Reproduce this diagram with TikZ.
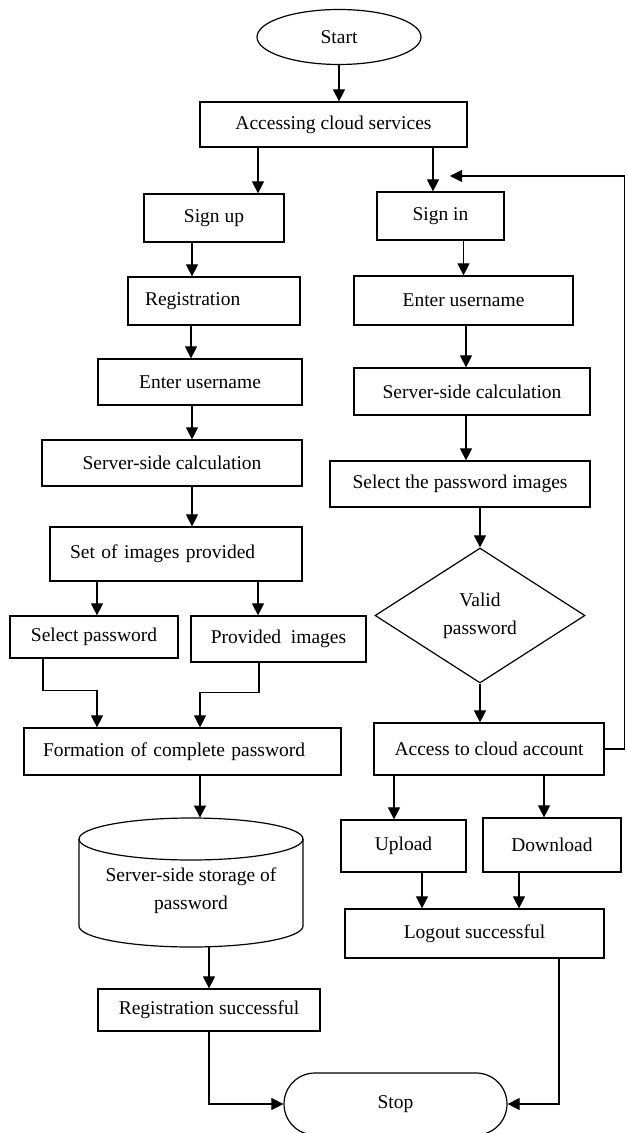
\documentclass[tikz,border=0pt]{standalone}
\usepackage{fontspec}
\setmainfont{Liberation Serif}
\usetikzlibrary{shapes.geometric,shapes.misc,arrows.meta}

\begin{document}
\begin{tikzpicture}[x=0.5pt, y=-0.5pt,
		box/.style={draw, line width=0.6pt, inner sep=0pt, align=center},
		arr/.style={-{Triangle[length=6pt,width=6pt]}, line width=0.55pt},
		font=\fontsize{9.75}{14}\selectfont]
			\useasboundingbox (0,0) rectangle (626,1133);
			
			\node[box, ellipse, minimum width=82pt, minimum height=27.5pt] (start) at (339,37) {Start};
			\node[box, minimum width=133.5pt, minimum height=22.5pt] (access) at (333.5,124.5) {Accessing cloud services};
			
			% Sign up side
			\node[box, minimum width=70pt, minimum height=24pt] (signup) at (214,218) {Sign up};
			\node[box, minimum height=24pt, text width=69pt, inner xsep=8.5pt, align=left] (reg) at (214,301) {Registration};
			\node[box, minimum width=102pt, minimum height=23pt] (enterl) at (200,382) {Enter username};
			\node[box, minimum width=130pt, minimum height=23pt] (calcl) at (172,463) {Server-side calculation};
			\node[box, minimum height=27pt, text width=106pt, inner xsep=10pt, align=left] (setimg) at (176,554) {Set of images provided};
			\node[box, minimum width=84pt, minimum height=21pt] (selpw) at (94,637) {Select password};
			\node[box, minimum width=87.5pt, minimum height=23pt] (provimg) at (278.5,639) {Provided\ \ images};
			\node[box, minimum height=23.5pt, text width=139.5pt, inner xsep=9.5pt, align=left] (form) at (182.5,751.5) {Formation of complete password};
			\node[minimum width=112pt, minimum height=56pt, inner sep=0pt, align=center] (store) at (191,891) {Server-side storage of\\password};
			\node[box, minimum width=111pt, minimum height=21pt] (regok) at (209,1010) {Registration successful};
			
			% Sign in side
			\node[box, minimum width=63.5pt, minimum height=24pt] (signin) at (440.5,216) {Sign in};
			\node[box, minimum width=109.5pt, minimum height=24.5pt] (enteru) at (463.5,300.5) {Enter username};
			\node[box, minimum width=118pt, minimum height=23.5pt] (calcr) at (472,391.5) {Server-side calculation};
			\node[box, minimum width=130pt, minimum height=23pt] (selimg) at (460,484) {Select the password images};
			\node[box, diamond, shape aspect=1.55, minimum width=105pt, minimum height=67.5pt] (valid) at (480,615.5) {Valid\\password};
			\node[box, minimum width=115pt, minimum height=26pt] (acc) at (489,749) {Access to cloud account};
			\node[box, minimum width=62.5pt, minimum height=26pt] (upload) at (403.5,846) {Upload};
			\node[box, minimum width=69pt, minimum height=27pt] (download) at (552,845) {Download};
			\node[box, minimum width=129.5pt, minimum height=24.5pt] (logout) at (474.5,933.5) {Logout successful};
			\node[box, rounded rectangle, minimum width=111.5pt, minimum height=31pt] (stop) at (395.5,1104) {Stop};
			\coordinate (back) at (450,176);
			
			% storage cylinder
			\draw[line width=0.6pt] (191,839) ellipse [x radius=56pt, y radius=10.5pt];
			\draw[line width=0.6pt] (79,839) -- (79,926) arc[start angle=180, end angle=360, x radius=56pt, y radius=10.5pt] -- (303,839);
			
			\draw[arr] (start.south) -- (access.north -| start.south);
			\draw[arr] (access.south -| 258,0) -- (signup.north -| 258,0);
			\draw[arr] (access.south -| 433,0) -- (signin.north -| 433,0);
			
			\draw[arr] (signup.south -| 192,0) -- (reg.north -| 192,0);
			\draw[arr] (reg.south -| 191,0) -- (enterl.north -| 191,0);
			\draw[arr] (enterl.south -| 192,0) -- (calcl.north -| 192,0);
			\draw[arr] (calcl.south -| 192,0) -- (setimg.north -| 192,0);
			\draw[arr] (setimg.south -| 97,0) -- (selpw.north -| 97,0);
			\draw[arr] (setimg.south -| 258,0) -- (provimg.north -| 258,0);
			\draw[arr] (selpw.south -| 43,0) -- ++(0,32) -| (form.north -| 97,0);
			\draw[arr] (provimg.south -| 259,0) -- ++(0,30) -| (form.north -| 200,0);
			\draw[arr] (form.south -| 200,0) -- ([yshift=8.5pt]store.north -| 200,0);
			\draw[arr] (store.south -| 209,0) -- (regok.north -| 209,0);
			\draw[arr] (regok.south) |- (stop.west);
			
			\draw[arr] (signin.south -| enteru.north) -- (enteru.north);
			\draw[arr] (enteru.south -| 466,0) -- (calcr.north -| 466,0);
			\draw[arr] (calcr.south -| 466,0) -- (selimg.north -| 466,0);
			\draw[arr] (selimg.south -| valid.north) -- (valid.north);
			\draw[arr] (valid.south) -- (acc.north -| valid.south);
			\draw[arr] (acc.east) -- ++(20,0) |- (back);
			\draw[arr] (acc.south -| 394,0) -- (upload.north -| 394,0);
			\draw[arr] (acc.south -| 544,0) -- (download.north -| 544,0);
			\draw[arr] (upload.south -| 422,0) -- (logout.north -| 422,0);
			\draw[arr] (download.south -| 519,0) -- (logout.north -| 519,0);
			\draw[arr] (logout.south -| 559,0) |- (stop.east);
		\end{tikzpicture}
\end{document}
